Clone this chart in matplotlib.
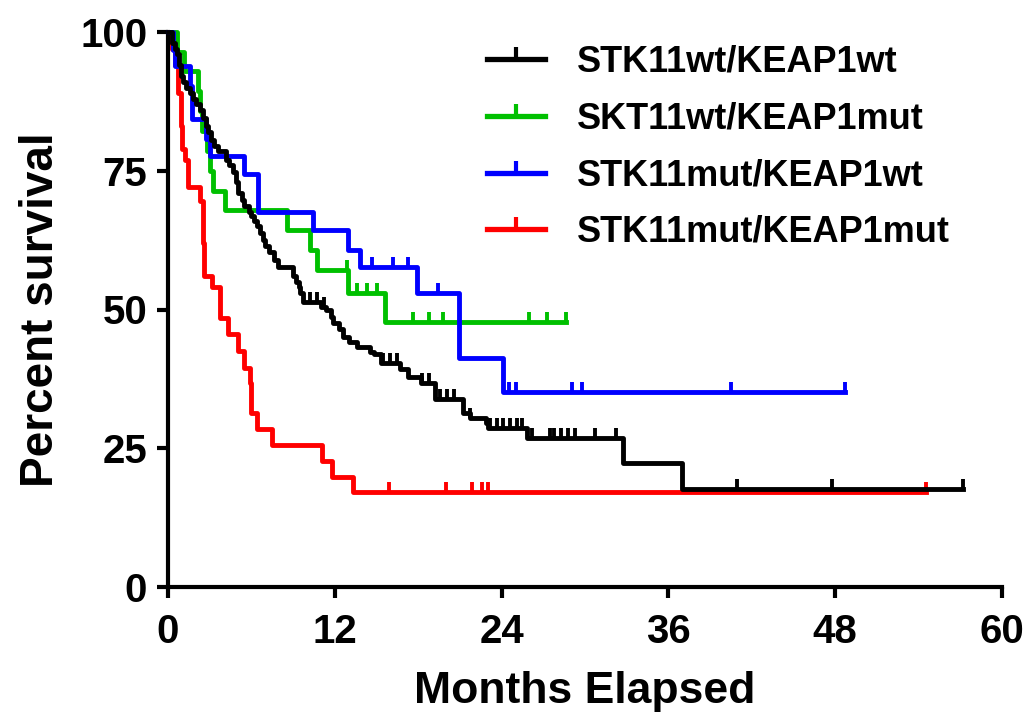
import numpy as np
import matplotlib.pyplot as plt
from matplotlib.lines import Line2D

plt.rcParams['font.family'] = ['Liberation Sans', 'DejaVu Sans']
plt.rcParams['font.weight'] = 'bold'

# Kaplan-Meier step data (months, percent survival)
labels = ['STK11wt/KEAP1wt', 'SKT11wt/KEAP1mut', 'STK11mut/KEAP1wt', 'STK11mut/KEAP1mut']
colors = ['#000000', '#00C000', '#0000FF', '#FF0000']

black_t = [0, 0.3, 0.5, 0.65, 0.8, 0.9, 1.1, 1.3, 1.6, 1.8, 2.0, 2.3, 2.5, 2.7, 2.9,
           3.1, 3.3, 3.6, 4.2, 4.4, 4.7, 4.9, 5.0, 5.3, 5.5, 5.8, 6.0, 6.2, 6.4, 6.6,
           6.8, 7.0, 7.3, 7.6, 7.9, 9.0, 9.2, 9.4, 9.5, 9.7, 11.0, 11.4, 11.7, 11.9,
           12.3, 12.6, 13.0, 13.6, 14.5, 14.8, 15.3, 16.7, 17.3, 18.2, 19.2, 21.2,
           21.7, 22.9, 23.0, 25.8, 32.7, 37.0]
black_s = [100, 98, 97, 96, 94, 92, 91, 90, 89, 88, 87, 86, 84.5, 83, 82,
           80.5, 79.4, 78.5, 77, 76, 74.7, 73, 71, 69.8, 68.6, 67.5, 66.8, 66, 65, 63.8,
           62.6, 61.5, 60.3, 59, 57.6, 56, 55, 54, 53, 51.4, 50.5, 50, 48.6, 47.6,
           46.5, 45, 44.2, 43.3, 42.3, 41.9, 40.4, 39.2, 37.9, 36.8, 33.8, 31.4,
           30.5, 29.6, 28.7, 26.9, 22.4, 17.7]
black_end = 57.2
black_cens = [10.2, 10.7, 11.2, 15.5, 16.0, 16.5, 18.3, 18.8, 19.6, 20.1, 20.6, 21.7,
              23.2, 23.7, 24.1, 24.6, 25.1, 25.5, 26.2, 27.5, 27.8, 28.3, 28.8, 29.3,
              30.7, 32.2, 40.9, 47.8, 57.2]

green_t = [0, 0.65, 1.15, 2.16, 2.3, 2.45, 2.8, 3.0, 3.24, 4.1, 8.56, 10.2, 10.7, 12.95, 15.6]
green_s = [100, 96.4, 92.9, 89.3, 85.7, 82.1, 78.6, 75.0, 71.4, 67.9, 64.3, 60.7, 57.1, 53.0, 47.8]
green_end = 28.6
green_cens = [12.85, 13.6, 14.3, 15.0, 17.6, 18.8, 19.8, 26.0, 27.3, 28.6]

blue_t = [0, 0.35, 0.5, 1.6, 1.7, 2.7, 3.0, 5.5, 6.5, 10.4, 12.95, 13.8, 17.9, 20.9, 24.1]
blue_s = [100, 96.8, 93.9, 90.3, 84.3, 80.7, 77.6, 74.4, 67.5, 64.4, 60.8, 57.6, 53.0, 41.3, 35.2]
blue_end = 48.7
blue_cens = [14.7, 16.2, 17.3, 19.4, 24.5, 25.0, 29.1, 29.8, 40.5, 48.7]

red_t = [0, 0.3, 0.5, 0.7, 0.9, 1.0, 1.2, 1.45, 2.3, 2.5, 2.6, 3.2, 3.74, 4.3, 5.0, 5.5,
         5.9, 6.0, 6.4, 7.5, 11.1, 11.8, 13.3]
red_s = [100, 97, 94, 89, 83, 79, 77, 72, 69.5, 62, 56, 54, 48.4, 45.5, 42.6, 39.5,
         36.8, 31.4, 28.5, 25.6, 22.7, 19.9, 17.1]
red_end = 54.5
red_cens = [15.9, 20.0, 21.9, 22.6, 23.0, 54.5]


def surv_at(times, surv, t):
    idx = np.searchsorted(times, t, side='right') - 1
    return np.asarray(surv)[idx]


fig = plt.figure(figsize=(10.28, 7.22), dpi=100)
ax = fig.add_axes([168 / 1028, 1 - 587 / 722, 834 / 1028, 555 / 722])

curves = [
    (red_t, red_s, red_end, red_cens, colors[3], 2),
    (green_t, green_s, green_end, green_cens, colors[1], 3),
    (blue_t, blue_s, blue_end, blue_cens, colors[2], 4),
    (black_t, black_s, black_end, black_cens, colors[0], 5),
]
for t, s, end, cens, c, z in curves:
    ax.step(list(t) + [end], list(s) + [s[-1]], where='post', color=c, lw=3.5,
            zorder=z, clip_on=False)
    ax.plot(cens, surv_at(t, s, cens), ls='none', marker=2, ms=7, mew=2.8,
            color=c, zorder=z, clip_on=False)

ax.set_xlim(0, 60)
ax.set_ylim(0, 100)
ax.set_xticks([0, 12, 24, 36, 48, 60])
ax.set_yticks([0, 25, 50, 75, 100])
for side in ['top', 'right']:
    ax.spines[side].set_visible(False)
for side in ['left', 'bottom']:
    ax.spines[side].set_linewidth(3)
ax.tick_params(axis='both', length=8, width=3, direction='out')
ax.tick_params(axis='y', labelsize=29, pad=7)
ax.tick_params(axis='x', labelsize=29, pad=11)

ax.set_xlabel('Months Elapsed', fontsize=32, fontweight='bold', labelpad=14)
ax.set_ylabel('Percent survival', fontsize=33, fontweight='bold', labelpad=12)

handles = [Line2D([0], [0], color=c, lw=3.8, marker=2, ms=9, mew=3) for c in colors]
fig.legend(handles, labels, loc='upper left', bbox_to_anchor=(487 / 1028, 1 - 45 / 722),
           frameon=False, handlelength=1.6, handletextpad=0.9,
           labelspacing=0.6, borderpad=0, borderaxespad=0, numpoints=1,
           prop={'weight': 'bold', 'size': 26})

fig.savefig('out.png', dpi=100)
